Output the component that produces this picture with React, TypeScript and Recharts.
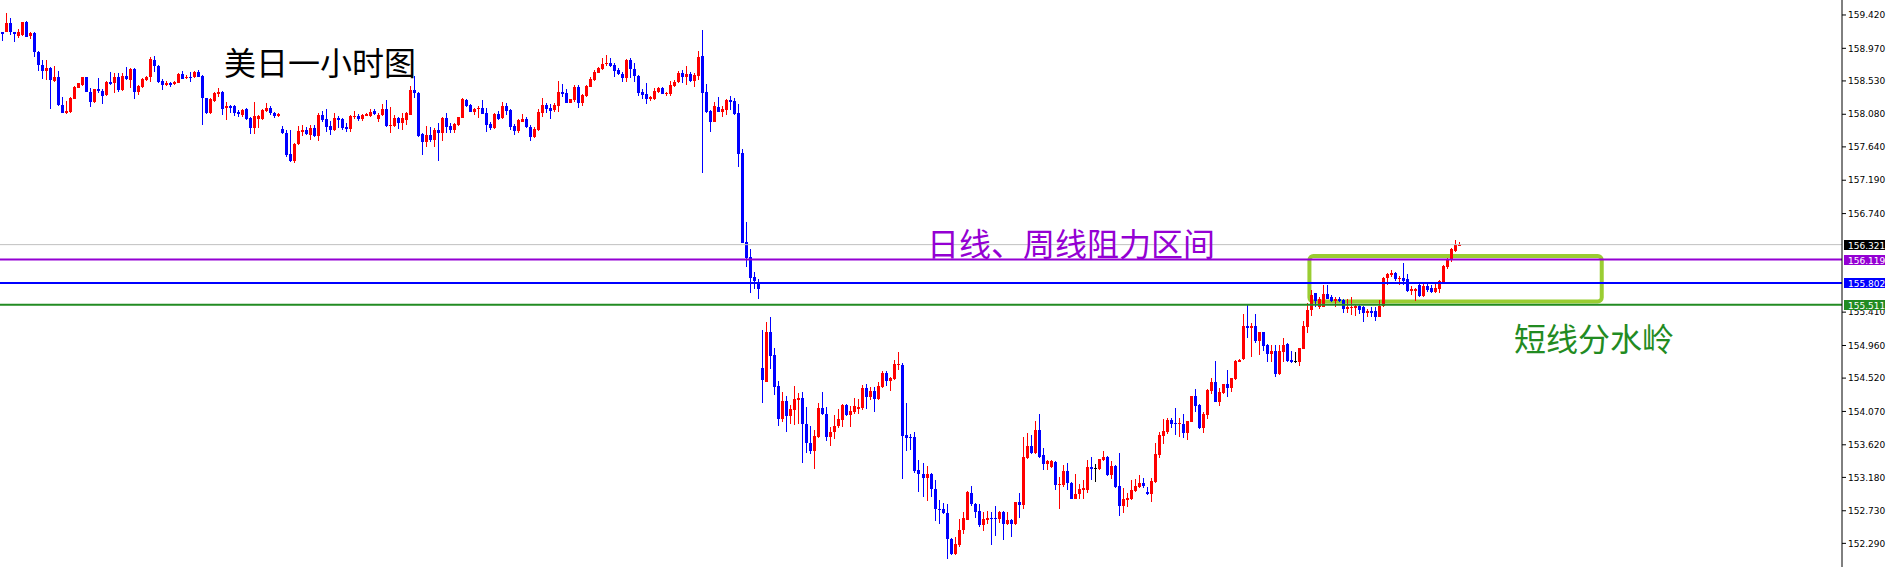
import { ComposedChart, Bar, XAxis, YAxis, ReferenceLine, ReferenceArea } from "recharts";

// USD/JPY hourly candles, oldest first
const opens = [
  159.186, 159.186, 159.316, 159.186, 159.14, 159.15, 159.33, 159.136, 159.172, 158.924,
  158.744, 158.668, 158.7, 158.533, 158.587, 158.204, 158.101, 158.115, 158.285, 158.438,
  158.475, 158.578, 158.385, 158.24, 158.42, 158.398, 158.34, 158.52, 158.497, 158.587,
  158.407, 158.6, 158.542, 158.686, 158.385, 158.443, 158.542, 158.578, 158.812, 158.731,
  158.529, 158.475, 158.506, 158.488, 158.506, 158.623, 158.574, 158.587, 158.578, 158.655,
  158.596, 158.294, 158.092, 158.263, 158.349, 158.385, 158.16, 158.191, 158.191, 158.115,
  158.07, 158.146, 158.024, 157.889, 158.011, 158.011, 158.124, 158.16, 158.092, 158.061,
  157.876, 157.822, 157.543, 157.453, 157.674, 157.844, 157.867, 157.8, 157.898, 157.79,
  158.07, 158.016, 157.926, 157.867, 158.034, 158.016, 157.912, 157.88, 158.047, 158.061,
  158.016, 158.061, 158.061, 158.124, 158.016, 158.07, 158.151, 157.926, 157.926, 158.034,
  157.957, 158.002, 158.07, 158.407, 158.371, 157.809, 157.71, 157.8, 157.732, 157.867,
  157.831, 158.034, 157.921, 157.867, 157.935, 158.034, 158.272, 158.204, 158.115, 158.151,
  158.169, 158.092, 157.948, 157.898, 158.083, 158.024, 158.191, 158.137, 157.921, 157.858,
  157.98, 158.011, 157.912, 157.777, 157.867, 158.101, 158.204, 158.169, 158.137, 158.191,
  158.385, 158.362, 158.236, 158.272, 158.443, 158.236, 158.326, 158.452, 158.542, 158.641,
  158.691, 158.754, 158.776, 158.744, 158.677, 158.623, 158.574, 158.812, 158.691, 158.596,
  158.38, 158.349, 158.285, 158.285, 158.385, 158.43, 158.349, 158.353, 158.466, 158.511,
  158.641, 158.587, 158.623, 158.529, 158.596, 158.866, 158.385, 158.124, 157.98, 158.182,
  158.115, 158.137, 158.272, 158.263, 158.092, 157.552, 156.35, 156.148, 155.887, 155.806,
  154.659, 154.47, 155.145, 154.83, 154.411, 153.966, 154.209, 154.011, 154.087, 154.222,
  154.254, 153.907, 153.65, 153.538, 153.727, 154.123, 154.042, 153.727, 153.786, 153.876,
  153.952, 154.155, 154.02, 154.065, 154.101, 154.11, 154.389, 154.267, 154.344, 154.236,
  154.402, 154.591, 154.479, 154.506, 154.695, 154.695, 153.75, 153.727, 153.727, 153.277,
  153.232, 153.174, 153.232, 153.03, 152.76, 152.76, 152.706, 152.355, 152.143, 152.265,
  152.476, 152.611, 152.976, 152.827, 152.724, 152.535, 152.611, 152.638, 152.638, 152.616,
  152.715, 152.548, 152.602, 152.548, 152.85, 152.805, 153.444, 153.601, 153.511, 153.817,
  153.48, 153.358, 153.322, 153.389, 153.074, 153.074, 153.264, 153.11, 152.894, 152.953,
  153.007, 153.016, 153.322, 153.309, 153.3, 153.421, 153.457, 153.209, 153.331, 153.061,
  152.796, 152.872, 152.886, 152.998, 153.052, 153.106, 152.985, 152.953, 153.119, 153.48,
  153.741, 153.786, 153.952, 153.916, 153.898, 153.898, 153.781, 153.93, 154.276, 154.155,
  153.848, 154.02, 154.348, 154.47, 154.2, 154.321, 154.434, 154.389, 154.506, 154.74,
  154.771, 155.221, 155.198, 155.221, 155.018, 155.145, 154.965, 154.839, 154.884, 154.573,
  154.875, 154.974, 154.762, 154.749, 154.74, 154.911, 155.212, 155.437, 155.662, 155.473,
  155.473, 155.653, 155.608, 155.559, 155.594, 155.572, 155.446, 155.46, 155.46, 155.496,
  155.473, 155.401, 155.428, 155.428, 155.347, 155.491, 155.865, 155.91, 155.941, 155.856,
  155.874, 155.856, 155.698, 155.698, 155.775, 155.626, 155.766, 155.739, 155.685, 155.721,
  155.82, 156.022, 156.121, 156.238, 156.315,
];

const highs = [
  159.195, 159.442, 159.375, 159.195, 159.226, 159.32, 159.338, 159.186, 159.186, 158.933,
  158.812, 158.812, 158.722, 158.731, 158.664, 158.317, 158.258, 158.317, 158.461, 158.506,
  158.587, 158.587, 158.43, 158.416, 158.565, 158.416, 158.529, 158.655, 158.632, 158.632,
  158.632, 158.713, 158.7, 158.7, 158.475, 158.565, 158.6, 158.848, 158.866, 158.744,
  158.551, 158.533, 158.52, 158.533, 158.641, 158.664, 158.61, 158.655, 158.668, 158.677,
  158.61, 158.304, 158.294, 158.385, 158.43, 158.394, 158.249, 158.204, 158.204, 158.137,
  158.146, 158.16, 158.047, 158.249, 158.07, 158.146, 158.227, 158.191, 158.115, 158.092,
  157.921, 157.867, 157.867, 157.696, 157.921, 157.935, 157.912, 157.935, 157.935, 158.092,
  158.128, 158.151, 157.989, 158.092, 158.056, 158.024, 157.966, 158.07, 158.128, 158.083,
  158.083, 158.1, 158.146, 158.146, 158.092, 158.218, 158.272, 158.182, 158.07, 158.047,
  158.092, 158.115, 158.461, 158.596, 158.385, 157.822, 157.921, 157.903, 157.889, 157.957,
  158.047, 158.092, 157.966, 157.966, 158.047, 158.294, 158.285, 158.218, 158.16, 158.191,
  158.272, 158.16, 157.98, 158.092, 158.124, 158.249, 158.236, 158.146, 157.948, 158.011,
  158.083, 158.038, 157.935, 157.912, 158.146, 158.294, 158.236, 158.218, 158.236, 158.529,
  158.484, 158.416, 158.285, 158.475, 158.475, 158.349, 158.475, 158.578, 158.677, 158.722,
  158.834, 158.879, 158.834, 158.767, 158.7, 158.655, 158.821, 158.834, 158.767, 158.61,
  158.416, 158.497, 158.326, 158.43, 158.443, 158.443, 158.385, 158.529, 158.542, 158.664,
  158.677, 158.731, 158.655, 158.632, 158.938, 159.217, 158.488, 158.137, 158.249, 158.308,
  158.191, 158.285, 158.326, 158.304, 158.218, 157.61, 156.63, 156.26, 155.946, 155.851,
  155.167, 155.28, 155.347, 154.92, 154.479, 154.335, 154.276, 154.163, 154.411, 154.321,
  154.335, 154.132, 153.871, 153.817, 154.186, 154.335, 154.132, 153.862, 154.02, 154.101,
  154.177, 154.177, 154.146, 154.245, 154.236, 154.425, 154.434, 154.402, 154.402, 154.461,
  154.614, 154.618, 154.537, 154.762, 154.866, 154.726, 154.186, 153.763, 153.795, 153.412,
  153.376, 153.331, 153.241, 153.142, 152.872, 152.836, 152.827, 152.368, 152.377, 152.616,
  152.714, 152.998, 153.061, 152.836, 152.827, 152.715, 152.724, 152.715, 152.791, 152.724,
  152.724, 152.715, 152.625, 152.85, 152.976, 153.727, 153.781, 153.749, 153.943, 154.033,
  153.578, 153.412, 153.412, 153.398, 153.187, 153.344, 153.381, 153.119, 153.223, 153.088,
  153.142, 153.412, 153.457, 153.367, 153.434, 153.534, 153.466, 153.398, 153.344, 153.511,
  153.038, 152.976, 153.142, 153.155, 153.209, 153.174, 153.052, 153.174, 153.646, 153.795,
  153.966, 153.975, 153.975, 154.123, 153.975, 154.042, 153.943, 154.276, 154.371, 154.168,
  154.065, 154.37, 154.515, 154.749, 154.389, 154.447, 154.627, 154.524, 154.762, 154.771,
  155.383, 155.513, 155.266, 155.383, 155.145, 155.145, 154.974, 154.965, 154.965, 154.965,
  155.055, 154.987, 154.884, 154.866, 154.929, 155.289, 155.527, 155.707, 155.671, 155.608,
  155.774, 155.774, 155.639, 155.617, 155.608, 155.586, 155.581, 155.608, 155.505, 155.505,
  155.491, 155.459, 155.473, 155.473, 155.572, 155.878, 155.932, 155.977, 155.954, 155.896,
  156.076, 155.918, 155.761, 155.73, 155.797, 155.784, 155.797, 155.775, 155.82, 155.842,
  156.044, 156.134, 156.269, 156.382, 156.36,
];

const lows = [
  159.073, 159.186, 159.15, 159.06, 159.114, 159.136, 159.118, 159.091, 158.848, 158.664,
  158.555, 158.542, 158.146, 158.52, 158.191, 158.092, 158.078, 158.101, 158.285, 158.43,
  158.466, 158.376, 158.182, 158.231, 158.362, 158.213, 158.33, 158.475, 158.362, 158.385,
  158.398, 158.542, 158.43, 158.285, 158.34, 158.434, 158.533, 158.52, 158.655, 158.506,
  158.407, 158.461, 158.452, 158.475, 158.497, 158.551, 158.551, 158.52, 158.565, 158.578,
  157.935, 158.083, 158.083, 158.249, 158.317, 158.07, 158.002, 158.092, 158.056, 158.047,
  158.047, 158.002, 157.813, 157.813, 157.889, 158.002, 158.115, 158.07, 158.024, 158.047,
  157.813, 157.507, 157.44, 157.417, 157.665, 157.79, 157.8, 157.732, 157.777, 157.723,
  157.971, 157.844, 157.8, 157.853, 157.898, 157.867, 157.844, 157.844, 158.016, 157.989,
  157.989, 158.056, 158.047, 158.07, 157.971, 158.056, 157.912, 157.831, 157.912, 157.88,
  157.867, 157.935, 158.07, 158.294, 157.777, 157.53, 157.642, 157.71, 157.642, 157.453,
  157.723, 157.831, 157.831, 157.831, 157.921, 158.024, 158.173, 158.115, 158.07, 158.024,
  158.083, 157.844, 157.867, 157.876, 158.002, 158.011, 158.07, 157.867, 157.8, 157.831,
  157.971, 157.889, 157.723, 157.754, 157.858, 158.047, 158.092, 158.016, 158.115, 158.115,
  158.317, 158.227, 158.236, 158.249, 158.16, 158.191, 158.317, 158.443, 158.533, 158.632,
  158.677, 158.736, 158.722, 158.587, 158.61, 158.52, 158.52, 158.565, 158.52, 158.326,
  158.281, 158.218, 158.263, 158.272, 158.371, 158.349, 158.326, 158.326, 158.452, 158.497,
  158.497, 158.475, 158.52, 158.452, 158.542, 157.282, 158.101, 157.844, 157.98, 158.106,
  158.047, 158.07, 158.137, 158.07, 157.363, 156.337, 156.013, 155.671, 155.716, 155.594,
  154.186, 154.461, 154.641, 154.29, 153.876, 153.93, 153.795, 153.898, 153.885, 153.894,
  153.376, 153.511, 153.502, 153.3, 153.718, 154.02, 153.673, 153.606, 153.696, 153.853,
  153.862, 154.006, 153.858, 154.042, 154.042, 154.087, 154.101, 154.222, 154.065, 154.222,
  154.393, 154.416, 154.344, 154.492, 154.627, 153.156, 153.538, 153.547, 153.246, 152.985,
  152.917, 152.863, 152.917, 152.593, 152.548, 152.692, 152.076, 152.13, 152.13, 152.242,
  152.413, 152.602, 152.796, 152.634, 152.512, 152.458, 152.548, 152.265, 152.39, 152.566,
  152.332, 152.535, 152.377, 152.535, 152.634, 152.751, 153.434, 153.502, 153.502, 153.448,
  153.277, 153.277, 153.313, 153.007, 152.751, 153.052, 153.007, 152.886, 152.886, 152.894,
  152.894, 152.971, 153.142, 153.12, 153.286, 153.403, 153.2, 153.164, 153.043, 152.661,
  152.701, 152.782, 152.881, 152.989, 153.043, 153.043, 152.94, 152.85, 153.11, 153.444,
  153.637, 153.759, 153.84, 153.749, 153.727, 153.705, 153.682, 153.921, 154.065, 153.83,
  153.781, 153.966, 154.312, 154.191, 154.141, 154.312, 154.267, 154.326, 154.501, 154.731,
  154.762, 155.064, 154.807, 155.0, 154.83, 154.884, 154.74, 154.74, 154.537, 154.564,
  154.74, 154.74, 154.717, 154.717, 154.681, 154.906, 155.131, 155.356, 155.473, 155.459,
  155.473, 155.586, 155.55, 155.482, 155.55, 155.401, 155.401, 155.37, 155.356, 155.383,
  155.279, 155.347, 155.347, 155.293, 155.338, 155.482, 155.775, 155.887, 155.833, 155.775,
  155.775, 155.685, 155.64, 155.563, 155.608, 155.617, 155.685, 155.662, 155.671, 155.671,
  155.811, 155.99, 156.089, 156.225, 156.301,
];

const closes = [
  159.158, 159.316, 159.195, 159.158, 159.195, 159.32, 159.127, 159.172, 158.916, 158.744,
  158.668, 158.7, 158.542, 158.587, 158.204, 158.101, 158.124, 158.294, 158.443, 158.497,
  158.578, 158.385, 158.24, 158.416, 158.398, 158.326, 158.52, 158.488, 158.578, 158.407,
  158.596, 158.551, 158.686, 158.385, 158.461, 158.555, 158.587, 158.821, 158.731, 158.52,
  158.475, 158.506, 158.475, 158.52, 158.623, 158.56, 158.587, 158.578, 158.655, 158.587,
  158.294, 158.092, 158.281, 158.362, 158.385, 158.146, 158.191, 158.169, 158.101, 158.083,
  158.137, 158.011, 157.889, 158.056, 158.056, 158.137, 158.16, 158.092, 158.056, 158.078,
  157.822, 157.53, 157.448, 157.678, 157.858, 157.867, 157.809, 157.889, 157.79, 158.07,
  158.002, 157.912, 157.867, 158.034, 158.002, 157.898, 157.88, 158.056, 158.061, 158.016,
  158.07, 158.078, 158.115, 158.083, 158.07, 158.151, 157.926, 157.935, 158.034, 157.957,
  158.034, 158.101, 158.407, 158.362, 157.786, 157.71, 157.8, 157.732, 157.867, 157.831,
  158.034, 157.912, 157.867, 157.948, 158.047, 158.281, 158.191, 158.115, 158.151, 158.169,
  158.083, 157.935, 157.898, 158.083, 158.016, 158.191, 158.124, 157.912, 157.858, 158.002,
  158.011, 157.903, 157.777, 157.88, 158.115, 158.204, 158.146, 158.128, 158.204, 158.385,
  158.353, 158.236, 158.285, 158.443, 158.227, 158.34, 158.461, 158.555, 158.655, 158.7,
  158.758, 158.776, 158.736, 158.668, 158.618, 158.574, 158.812, 158.686, 158.596, 158.371,
  158.34, 158.285, 158.308, 158.394, 158.43, 158.353, 158.371, 158.475, 158.52, 158.641,
  158.587, 158.618, 158.529, 158.61, 158.857, 158.371, 158.115, 157.98, 158.191, 158.115,
  158.151, 158.272, 158.249, 158.083, 157.543, 156.346, 156.134, 155.874, 155.833, 155.716,
  154.492, 155.145, 154.821, 154.402, 153.966, 154.209, 154.011, 154.101, 154.236, 154.245,
  153.907, 153.646, 153.538, 153.736, 154.123, 154.033, 153.727, 153.786, 153.876, 153.966,
  154.155, 154.02, 154.074, 154.141, 154.132, 154.389, 154.267, 154.344, 154.236, 154.411,
  154.591, 154.479, 154.515, 154.704, 154.708, 153.736, 153.718, 153.714, 153.264, 153.223,
  153.174, 153.232, 153.021, 152.751, 152.737, 152.701, 152.346, 152.143, 152.278, 152.476,
  152.634, 152.985, 152.818, 152.715, 152.535, 152.616, 152.638, 152.629, 152.616, 152.715,
  152.548, 152.602, 152.548, 152.85, 152.805, 153.457, 153.601, 153.511, 153.817, 153.457,
  153.358, 153.398, 153.398, 153.074, 153.097, 153.264, 153.106, 152.894, 152.962, 153.02,
  153.038, 153.322, 153.3, 153.309, 153.426, 153.457, 153.209, 153.331, 153.052, 152.796,
  152.886, 152.904, 153.007, 153.061, 153.106, 153.061, 152.953, 153.128, 153.493, 153.749,
  153.804, 153.961, 153.907, 153.898, 153.916, 153.781, 153.938, 154.276, 154.146, 153.848,
  154.033, 154.357, 154.47, 154.2, 154.326, 154.434, 154.389, 154.515, 154.749, 154.762,
  155.221, 155.198, 155.221, 155.018, 155.145, 154.956, 154.839, 154.884, 154.573, 154.884,
  154.965, 154.749, 154.74, 154.749, 154.92, 155.226, 155.437, 155.648, 155.559, 155.594,
  155.653, 155.594, 155.559, 155.594, 155.559, 155.446, 155.473, 155.473, 155.496, 155.437,
  155.401, 155.428, 155.401, 155.347, 155.491, 155.865, 155.923, 155.941, 155.856, 155.874,
  155.829, 155.698, 155.716, 155.716, 155.626, 155.766, 155.707, 155.676, 155.739, 155.829,
  156.031, 156.121, 156.256, 156.315, 156.321,
];

// price scale labels (156.300 and 155.850 sit under the price tags)
const priceTicks = [
  152.29, 152.73, 153.18, 153.62, 154.07, 154.52, 154.96, 155.41,
  156.74, 157.19, 157.64, 158.08, 158.53, 158.97, 159.42,
];

// horizontal levels: bid, daily/weekly resistance, mid line, short-term pivot
const bidPrice = 156.321;
const resistanceTop = 156.119;
const resistanceMid = 155.802;
const pivotPrice = 155.511;

// rounded box around the consolidation
const boxFrom = 327;
const boxTo = 399;
const boxHigh = 156.167;
const boxLow = 155.553;

// chart shift on the right: empty slots after the last bar
const slotCount = 460;

const priceDomain: [number, number] = [151.971, 159.622];
const W = 1889;
const H = 567;

const data = Array.from({ length: slotCount }, (_, i) => ({
  idx: i,
  open: i < opens.length ? opens[i] : null,
  high: i < highs.length ? highs[i] : null,
  low: i < lows.length ? lows[i] : null,
  close: i < closes.length ? closes[i] : null,
}));

const tagFont = "Tahoma, 'DejaVu Sans', 'Liberation Sans', sans-serif";
const cjkFont = "'Noto Sans CJK SC', sans-serif";

function Candle(props: any) {
  const { x, y, width, height, payload } = props;
  if (!payload || payload.open == null || y == null) return null;
  const { open, high, low, close } = payload;
  const top = Math.min(y, y + height);
  const span = Math.abs(height);
  const toY = (v: number) =>
    high === low ? top : top + ((high - v) / (high - low)) * span;
  const cx = Math.floor(x + width / 2) + 0.5;
  const color = close > open ? "#ff0000" : close < open ? "#0000ff" : "#000000";
  const bodyTop = Math.round(toY(Math.max(open, close)));
  const bodyBottom = Math.round(toY(Math.min(open, close)));
  return (
    <g>
      <line
        x1={cx}
        x2={cx}
        y1={Math.round(top)}
        y2={Math.round(top + span)}
        stroke={color}
        strokeWidth={1}
      />
      <rect
        x={cx - 1.5}
        y={bodyTop}
        width={3}
        height={Math.max(1, bodyBottom - bodyTop)}
        fill={color}
      />
    </g>
  );
}

const priceTag = (text: string, bg: string) => (props: any) => {
  const vb = props.viewBox || {};
  const left = (vb.x ?? 0) + (vb.width ?? 0) + 2;
  const mid = Math.round(vb.y ?? 0);
  return (
    <g>
      <rect x={left} y={mid - 5} width={41} height={10} fill={bg} />
      <text x={left + 4} y={mid + 4} fill="#ffffff" fontSize={9} fontFamily={tagFont}>
        {text}
      </text>
    </g>
  );
};

const note = (left: number, top: number, color: string): React.CSSProperties => ({
  position: "absolute",
  left,
  top,
  color,
  fontFamily: cjkFont,
  fontSize: 32,
  lineHeight: "32px",
  whiteSpace: "nowrap",
  pointerEvents: "none",
});

const layer: React.CSSProperties = { position: "absolute", left: 0, top: 0 };

export default function App() {
  return (
    <div style={{ position: "absolute", left: 0, top: 0, width: W, height: H, background: "#fff" }}>
      <div style={layer}>
        <ComposedChart
          width={W}
          height={H}
          data={data}
          margin={{ top: 0, right: 0, bottom: 0, left: 0 }}
          barCategoryGap={0}
          barGap={0}
        >
          <XAxis dataKey="idx" type="category" hide />
          <YAxis
            orientation="right"
            type="number"
            width={47}
            domain={priceDomain}
            allowDataOverflow
            ticks={priceTicks}
            interval={0}
            tickFormatter={(v: number) => v.toFixed(3)}
            tickSize={4}
            tickMargin={2}
            axisLine={{ stroke: "#000" }}
            tickLine={{ stroke: "#000" }}
            tick={{ fontSize: 9, fill: "#000", fontFamily: tagFont }}
          />
          <ReferenceLine y={bidPrice} stroke="#c0c0c0" strokeWidth={1} />
          <ReferenceLine y={resistanceTop} stroke="#9400d3" strokeWidth={2} />
          <ReferenceLine y={resistanceMid} stroke="#0000ff" strokeWidth={2} />
          <ReferenceLine y={pivotPrice} stroke="#228b22" strokeWidth={2} />
          <Bar
            dataKey={(d: any) => (d.open == null ? null : [d.low, d.high])}
            shape={Candle}
            isAnimationActive={false}
          />
          <ReferenceArea
            x1={boxFrom}
            x2={boxTo}
            y1={boxLow}
            y2={boxHigh}
            ifOverflow="visible"
            shape={(p: any) => (
              <rect
                x={p.x}
                y={p.y}
                width={p.width}
                height={p.height}
                rx={4}
                ry={4}
                fill="none"
                stroke="#9acd32"
                strokeWidth={4}
              />
            )}
          />
        </ComposedChart>
      </div>
      {/* price tags sit above the scale labels */}
      <div style={{ ...layer, pointerEvents: "none" }}>
        <ComposedChart
          width={W}
          height={H}
          data={data}
          margin={{ top: 0, right: 0, bottom: 0, left: 0 }}
        >
          <XAxis dataKey="idx" type="category" hide />
          <YAxis
            orientation="right"
            type="number"
            width={47}
            domain={priceDomain}
            allowDataOverflow
            ticks={priceTicks}
            tick={false}
            tickLine={false}
            axisLine={false}
          />
          <ReferenceLine y={bidPrice} stroke="none" label={priceTag(bidPrice.toFixed(3), "#000000")} />
          <ReferenceLine y={resistanceTop} stroke="none" label={priceTag(resistanceTop.toFixed(3), "#9400d3")} />
          <ReferenceLine y={resistanceMid} stroke="none" label={priceTag(resistanceMid.toFixed(3), "#0000ff")} />
          <ReferenceLine y={pivotPrice} stroke="none" label={priceTag(pivotPrice.toFixed(3), "#228b22")} />
        </ComposedChart>
      </div>
      <div style={note(224, 45, "#000000")}>美日一小时图</div>
      <div style={note(927, 226, "#9400d3")}>日线、周线阻力区间</div>
      <div style={note(1514, 321, "#228b22")}>短线分水岭</div>
    </div>
  );
}
